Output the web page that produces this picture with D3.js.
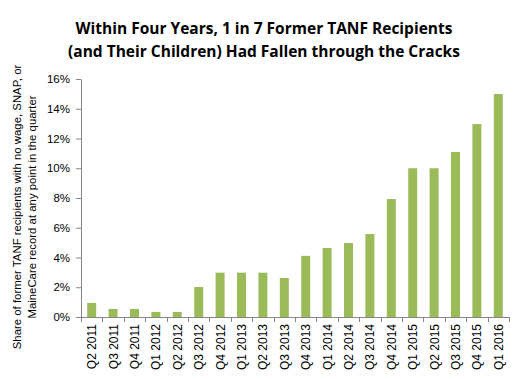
<!DOCTYPE html>
<html><head><meta charset="utf-8">
<script src="https://cdn.jsdelivr.net/npm/d3@7"></script>
<style>body{margin:0;background:#fff;}svg{display:block;}</style>
</head><body>
<svg id="chart" width="530" height="379"></svg>
<script>
const categories = ["Q2 2011","Q3 2011","Q4 2011","Q1 2012","Q2 2012","Q3 2012","Q4 2012","Q1 2013","Q2 2013","Q3 2013","Q4 2013","Q1 2014","Q2 2014","Q3 2014","Q4 2014","Q1 2015","Q2 2015","Q3 2015","Q4 2015","Q1 2016"];
const values = [0.94,0.54,0.54,0.34,0.34,2.02,2.98,2.98,2.98,2.62,4.11,4.64,4.97,5.58,7.93,10.0,10.0,11.09,12.97,14.99];
const yTicks = [0,2,4,6,8,10,12,14,16];
const titleLines = ["Within Four Years, 1 in 7 Former TANF Recipients","(and Their Children) Had Fallen through the Cracks"];
const yLabelLines = ["Share of former TANF recipients with no wage, SNAP, or","MaineCare record at any point in the quarter"];

const svg = d3.select("#chart");
const m = {left:81, right:21, top:79, bottom:62};
const W = 530, H = 379;
const x = d3.scaleBand().domain(categories).range([m.left, W - m.right]).paddingInner(0.58).paddingOuter(0.29);
const y = d3.scaleLinear().domain([0,16]).range([H - m.bottom, m.top]);
const font = "'Liberation Sans', Arial, sans-serif";

// bars
svg.append("g").selectAll("rect").data(values).join("rect")
  .attr("x", (d,i) => x(categories[i]))
  .attr("width", x.bandwidth())
  .attr("y", d => y(d))
  .attr("height", d => y(0) - y(d))
  .attr("fill", "#9bbb59");

// y axis
const yAxis = svg.append("g").attr("transform", `translate(${m.left},0)`)
  .call(d3.axisLeft(y).tickValues(yTicks).tickFormat(d => d + "%").tickSize(5).tickSizeOuter(0));
yAxis.select(".domain").attr("stroke", "#868686");
yAxis.selectAll(".tick line").attr("stroke", "#868686");
yAxis.selectAll("text").attr("font-family", font).attr("font-size", 11.5).attr("fill", "#000").attr("x", -11);

// x axis line & ticks between categories
const xg = svg.append("g");
xg.append("line").attr("x1", m.left).attr("x2", W - m.right).attr("y1", y(0)+0.5).attr("y2", y(0)+0.5).attr("stroke", "#868686");
const bounds = d3.range(categories.length + 1).map(i => m.left + i * (W - m.right - m.left) / categories.length);
xg.selectAll("line.tk").data(bounds).join("line").attr("class","tk")
  .attr("x1", d => Math.round(d)+0.5).attr("x2", d => Math.round(d)+0.5)
  .attr("y1", y(0)).attr("y2", y(0)+5).attr("stroke", "#868686");
xg.selectAll("text").data(categories).join("text")
  .attr("transform", d => `translate(${x(d) + x.bandwidth()/2 + 4.5},${y(0)+7}) rotate(-90)`)
  .attr("text-anchor", "end")
  .attr("font-family", font).attr("font-size", 12).attr("fill", "#000")
  .text(d => d);

// title
svg.append("g").selectAll("text").data(titleLines).join("text")
  .attr("x", 264).attr("y", (d,i) => 34 + i * 23)
  .attr("text-anchor", "middle")
  .attr("font-family", "'Open Sans', sans-serif").attr("font-weight", "bold").attr("font-size", 15.5)
  .attr("fill", "#000")
  .text(d => d);

// y label
const yl = svg.append("g").selectAll("text").data(yLabelLines).join("text")
  .attr("transform", (d,i) => `translate(${21 + i*15},${207}) rotate(-90)`)
  .attr("text-anchor", "middle")
  .attr("font-family", font).attr("font-size", 10).attr("fill", "#000")
  .text(d => d);
const len = yl.nodes()[0].getComputedTextLength();
if (len > 0) yl.attr("font-size", 10 * 285 / len);
</script>
</body></html>
